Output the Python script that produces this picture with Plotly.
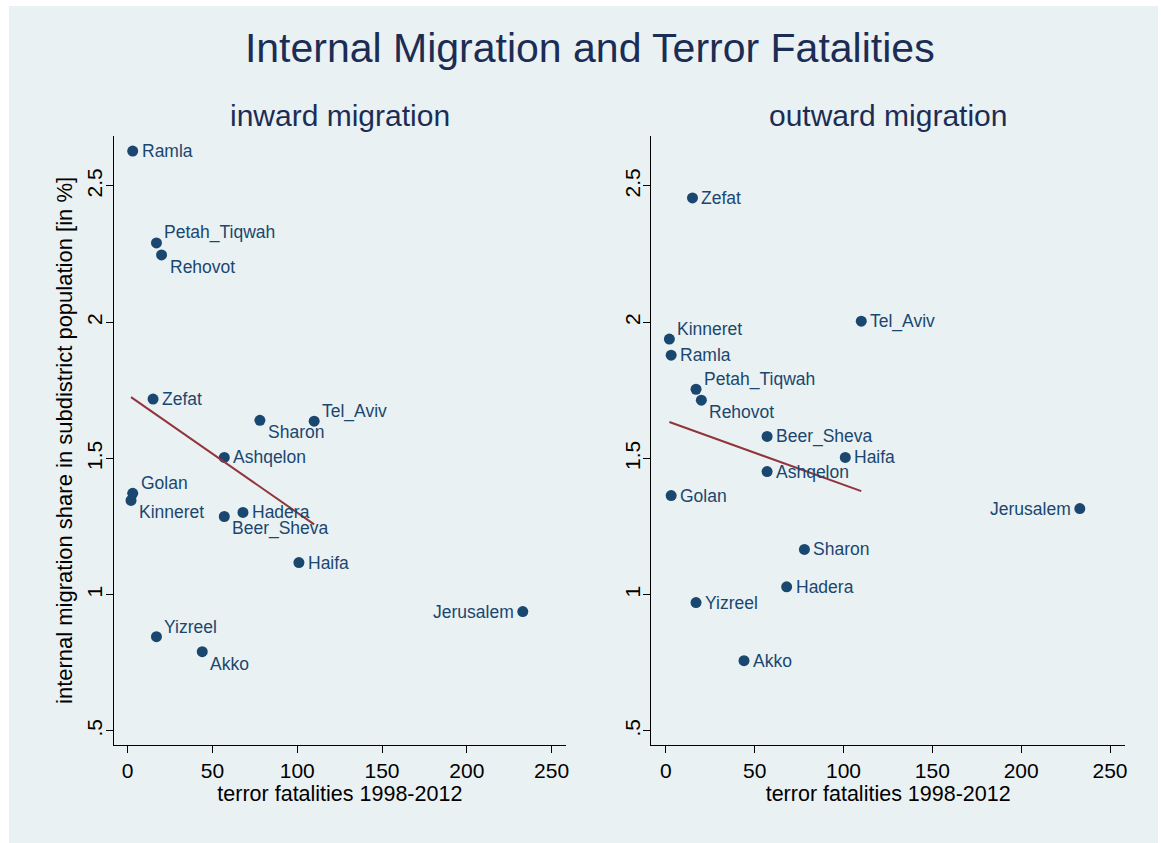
import plotly.graph_objects as go

# ---- data ----
districts = ["Ramla", "Petah_Tiqwah", "Rehovot", "Zefat", "Sharon", "Tel_Aviv",
             "Ashqelon", "Golan", "Kinneret", "Beer_Sheva", "Hadera", "Haifa",
             "Jerusalem", "Yizreel", "Akko"]
fatalities = [3, 17, 20, 15, 78, 110, 57, 3, 2, 57, 68, 101, 233, 17, 44]
inward = [2.628, 2.291, 2.247, 1.718, 1.640, 1.637, 1.504, 1.372, 1.346,
          1.287, 1.302, 1.118, 0.938, 0.846, 0.791]
outward = [1.879, 1.754, 1.714, 2.456, 1.166, 2.004, 1.452, 1.364, 1.938,
           1.581, 1.029, 1.504, 1.316, 0.971, 0.758]

# fitted lines (endpoints)
fit_x = [2, 110]
fit_inward = [1.725, 1.258]
fit_outward = [1.634, 1.380]

x_ticks = [0, 50, 100, 150, 200, 250]
y_ticks = [0.5, 1, 1.5, 2, 2.5]
y_tick_text = [".5", "1", "1.5", "2", "2.5"]

# label placement (styling): r = right, ur = upper right, lr = lower right, l = left
pos_in = ["r", "ur", "lr", "r", "lr", "ur", "r", "ur", "lr", "lr", "r", "r", "l", "ur", "lr"]
pos_out = ["r", "ur", "lr", "r", "r", "r", "r", "r", "ur", "r", "r", "r", "l", "r", "r"]

NAVY = "#1a476f"
LINE = "#90353b"
BG = "#eaf1f3"
TITLE = "#1c2d55"
FONT = "Liberation Sans, Arial, Helvetica, sans-serif"

OFFSETS = {"r": ("left", 7, 0), "ur": ("left", 6, 10), "lr": ("left", 6, -12),
           "l": ("right", -7, 0)}

fig = go.Figure()

fig.add_trace(go.Scatter(x=fatalities, y=inward, mode="markers", text=districts,
                         marker=dict(color=NAVY, size=11),
                         xaxis="x", yaxis="y", showlegend=False, cliponaxis=False))
fig.add_trace(go.Scatter(x=fit_x, y=fit_inward, mode="lines",
                         line=dict(color=LINE, width=2), xaxis="x", yaxis="y",
                         showlegend=False))
fig.add_trace(go.Scatter(x=fatalities, y=outward, mode="markers", text=districts,
                         marker=dict(color=NAVY, size=11),
                         xaxis="x2", yaxis="y2", showlegend=False, cliponaxis=False))
fig.add_trace(go.Scatter(x=fit_x, y=fit_outward, mode="lines",
                         line=dict(color=LINE, width=2), xaxis="x2", yaxis="y2",
                         showlegend=False))

annotations = []
for xs, ys, positions, xref, yref in [(fatalities, inward, pos_in, "x", "y"),
                                      (fatalities, outward, pos_out, "x2", "y2")]:
    for name, xv, yv, p in zip(districts, xs, ys, positions):
        anchor, dx, dy = OFFSETS[p]
        annotations.append(dict(text=name, x=xv, y=yv, xref=xref, yref=yref,
                                xanchor=anchor, yanchor="middle", xshift=dx, yshift=dy,
                                showarrow=False,
                                font=dict(size=17.5, color=NAVY, family=FONT)))

annotations += [
    dict(text="inward migration", xref="paper", yref="paper", x=341 / 1161,
         y=1 - 115 / 843, xanchor="center", yanchor="middle", showarrow=False,
         font=dict(size=30, color=TITLE, family=FONT)),
    dict(text="outward migration", xref="paper", yref="paper", x=890 / 1161,
         y=1 - 115 / 843, xanchor="center", yanchor="middle", showarrow=False,
         font=dict(size=30, color=TITLE, family=FONT)),
]

xr = [-8.2, 258.5]
yr = [0.4486, 2.6835]
ydom = [0.1163, 0.8387]

xcommon = dict(range=xr, tickvals=x_ticks, ticks="outside", ticklen=7, tickwidth=1.3,
               tickcolor="black", showline=True, linecolor="black", linewidth=1.3,
               showgrid=False, zeroline=False,
               tickfont=dict(size=21, color="black", family=FONT),
               title=dict(text="terror fatalities 1998-2012",
                          font=dict(size=21.5, color="black", family=FONT), standoff=2))
ycommon = dict(range=yr, domain=ydom, tickvals=y_ticks, ticktext=y_tick_text,
               ticks="outside", ticklen=7, tickwidth=1.3, tickcolor="black",
               showline=True, linecolor="black", linewidth=1.3, showgrid=True,
               gridcolor=BG, gridwidth=1.5, zeroline=False, tickangle=-90,
               ticklabelstandoff=-5,
               tickfont=dict(size=21, color="black", family=FONT))

fig.update_layout(
    xaxis=dict(domain=[0.0982, 0.4888], anchor="y", **xcommon),
    yaxis=dict(anchor="x",
               title=dict(text="internal migration share in subdistrict population [in %]",
                          font=dict(size=22, color="black", family=FONT), standoff=4),
               **ycommon),
    xaxis2=dict(domain=[0.5624, 0.9716], anchor="y2", **xcommon),
    yaxis2=dict(anchor="x2", **ycommon),
    width=1161, height=843,
    margin=dict(l=0, r=0, t=0, b=0),
    paper_bgcolor="white", plot_bgcolor="white",
    title=dict(text="Internal Migration and Terror Fatalities", x=0.508, xanchor="center",
               y=1 - 48 / 843, yanchor="middle",
               font=dict(size=41, color=TITLE, family=FONT)),
    shapes=[dict(type="rect", xref="paper", yref="paper", x0=9 / 1161, x1=1,
                 y0=0, y1=1 - 6 / 843, fillcolor=BG, line=dict(width=0), layer="below")],
    annotations=annotations,
)

fig.write_html("out.html", config={"displayModeBar": False},
               post_script="document.body.style.margin='0';document.body.style.overflow='hidden';")
